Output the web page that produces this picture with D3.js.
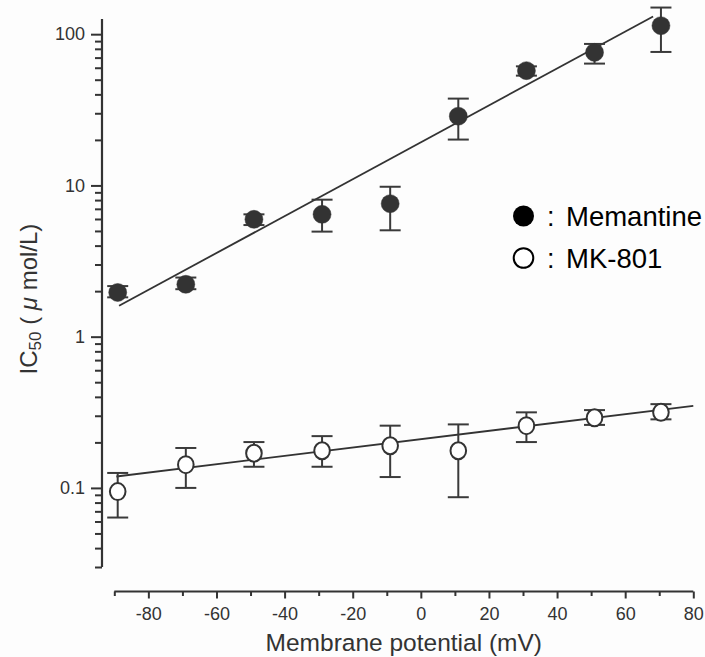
<!DOCTYPE html>
<html>
<head>
<meta charset="utf-8">
<script src="https://cdn.jsdelivr.net/npm/d3@7"></script>
<style>
  html, body { margin: 0; padding: 0; background: #fdfdfd; }
  svg { display: block; font-family: Arial, "Liberation Sans", sans-serif; }
</style>
</head>
<body>
<svg id="chart" width="705" height="657"></svg>
<script>
// ---- data ----
const potentials = [-89, -69, -49, -29, -9, 11, 31, 51, 70.5];
const memantine   = [1.96, 2.22, 5.97, 6.44, 7.57, 28.7, 57.4, 75.8, 113.8];
const memantineHi = [2.16, 2.46, 6.44, 8.05, 9.8, 37.5, 61.3, 86.2, 150];
const memantineLo = [1.82, 2.06, 5.47, 4.95, 5.05, 20.1, 53.2, 63.9, 76.3];
const mk801   = [0.0946, 0.1425, 0.1695, 0.176, 0.190, 0.176, 0.258, 0.291, 0.316];
const mk801Hi = [0.1256, 0.1837, 0.201, 0.22, 0.258, 0.263, 0.316, 0.327, 0.358];
const mk801Lo = [0.0637, 0.1, 0.138, 0.138, 0.118, 0.0868, 0.201, 0.261, 0.284];
const memFitV = [-88.6, 68.2];
const memFitY = [1.6, 131];
const mkFitV = [-89.4, 80];
const mkFitY = [0.119, 0.349];
const xMajorTicks = [-80, -60, -40, -20, 0, 20, 40, 60, 80];
const xMinorTicks = [-90, -70, -50, -30, -10, 10, 30, 50, 70];
const yMajorTicks = [0.1, 1, 10, 100];
const yMajorLabels = ["0.1", "1", "10", "100"];
const legendLabels = ["Memantine", "MK-801"];

// ---- scales ----
const svg = d3.select("#chart");
const ink = "#333";
const x = d3.scaleLinear().domain([-90, 80]).range([114.3, 693.3]);
const y = d3.scaleLog().domain([0.03, 126]).range([567, 19]);

const yMinor = [];
[0.01, 0.1, 1, 10].forEach(d => { for (let k = 2; k <= 9; k++) { const v = d * k; if (v >= 0.03 && v <= 126) yMinor.push(v); } });

// ---- y axis ----
const yAxisX = 102;
const gyMinor = svg.append("g").attr("transform", `translate(${yAxisX},0)`)
  .call(d3.axisLeft(y).tickValues(yMinor).tickSize(7).tickFormat(""));
const gyMajor = svg.append("g").attr("transform", `translate(${yAxisX},0)`)
  .call(d3.axisLeft(y).tickValues(yMajorTicks).tickSize(11).tickPadding(6)
    .tickFormat((d, i) => yMajorLabels[i]));
[gyMinor, gyMajor].forEach(g => {
  g.select(".domain").attr("stroke", ink).attr("stroke-width", 2.2)
    .attr("d", `M0,${y.range()[0]}V${y.range()[1]}`);
  g.selectAll(".tick line").attr("stroke", ink).attr("stroke-width", 2);
  g.selectAll(".tick text").attr("fill", ink).attr("font-size", 18)
    .attr("font-family", "Arial, 'Liberation Sans', sans-serif");
});
gyMinor.select(".domain").remove();

// ---- x axis ----
const xAxisY = 591.5;
const gxMinor = svg.append("g").attr("transform", `translate(0,${xAxisY})`)
  .call(d3.axisBottom(x).tickValues(xMinorTicks).tickSize(4.5).tickFormat(""));
const gxMajor = svg.append("g").attr("transform", `translate(0,${xAxisY})`)
  .call(d3.axisBottom(x).tickValues(xMajorTicks).tickSize(7).tickPadding(9)
    .tickFormat(d => String(d)));
[gxMinor, gxMajor].forEach(g => {
  g.select(".domain").attr("stroke", ink).attr("stroke-width", 2.2)
    .attr("d", `M${x.range()[0]},0H${x.range()[1]}`);
  g.selectAll(".tick line").attr("stroke", ink).attr("stroke-width", 2);
  g.selectAll(".tick text").attr("fill", ink).attr("font-size", 18)
    .attr("font-family", "Arial, 'Liberation Sans', sans-serif");
});
gxMinor.select(".domain").remove();

// ---- axis titles ----
svg.append("text").attr("x", (x.range()[0] + x.range()[1]) / 2).attr("y", 650.5)
  .attr("text-anchor", "middle").attr("font-size", 24.5).attr("fill", ink)
  .text("Membrane potential (mV)");

const yt = svg.append("text").attr("transform", "translate(37,299) rotate(-90)")
  .attr("text-anchor", "middle").attr("font-size", 24).attr("fill", ink);
yt.append("tspan").text("IC");
yt.append("tspan").attr("font-size", 17).attr("dy", 4).text("50");
yt.append("tspan").attr("dy", -4).text(" ( ");
yt.append("tspan").attr("font-style", "italic").text("\u03bc");
yt.append("tspan").text(" mol/L)");

// ---- fit lines ----
const line = d3.line().x(d => x(d[0])).y(d => y(d[1]));
svg.append("path").datum(d3.zip(memFitV, memFitY)).attr("d", line)
  .attr("fill", "none").attr("stroke", ink).attr("stroke-width", 1.8);
svg.append("path").datum(d3.zip(mkFitV, mkFitY)).attr("d", line)
  .attr("fill", "none").attr("stroke", ink).attr("stroke-width", 1.8);

// ---- error bars + markers ----
function series(vals, hi, lo, filled) {
  const g = svg.append("g");
  const data = potentials.map((v, i) => ({ v, m: vals[i], hi: hi[i], lo: lo[i] }));
  const cap = 10.5;
  const eb = g.selectAll(".eb").data(data).enter().append("g")
    .attr("stroke", "#3a3a3a").attr("stroke-width", 2);
  eb.append("line").attr("x1", d => x(d.v)).attr("x2", d => x(d.v))
    .attr("y1", d => y(d.hi)).attr("y2", d => y(d.lo));
  eb.append("line").attr("x1", d => x(d.v) - cap).attr("x2", d => x(d.v) + cap)
    .attr("y1", d => y(d.hi)).attr("y2", d => y(d.hi));
  eb.append("line").attr("x1", d => x(d.v) - cap).attr("x2", d => x(d.v) + cap)
    .attr("y1", d => y(d.lo)).attr("y2", d => y(d.lo));
  g.selectAll(".pt").data(data).enter().append("ellipse")
    .attr("cx", d => x(d.v)).attr("cy", d => y(d.m))
    .attr("rx", filled ? 9 : 7.8).attr("ry", filled ? 9 : 8.5)
    .attr("fill", filled ? ink : "#fff")
    .attr("stroke", ink).attr("stroke-width", filled ? 0.5 : 2);
}
series(mk801, mk801Hi, mk801Lo, false);
series(memantine, memantineHi, memantineLo, true);

// ---- legend ----
const legendY = [216, 258];
legendLabels.forEach((lab, i) => {
  const g = svg.append("g");
  g.append("circle").attr("cx", 523.5).attr("cy", legendY[i]).attr("r", i === 0 ? 10.5 : 9.8)
    .attr("fill", i === 0 ? "#000" : "#fff").attr("stroke", "#000").attr("stroke-width", i === 0 ? 0 : 2);
  g.append("text").attr("x", 547).attr("y", legendY[i] + 9.5).attr("font-size", 27)
    .attr("fill", "#000").text(":");
  g.append("text").attr("x", 566).attr("y", legendY[i] + 9.5).attr("font-size", 27.5)
    .attr("fill", "#000").text(lab);
});
</script>
</body>
</html>
